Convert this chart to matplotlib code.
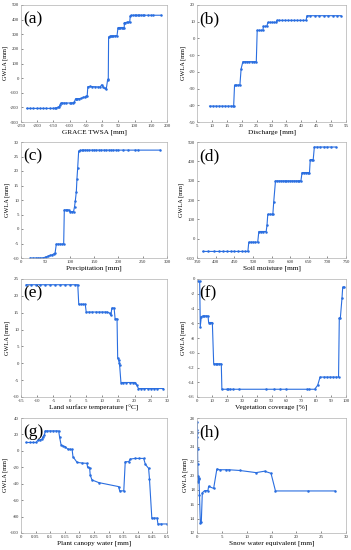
import matplotlib
matplotlib.use("Agg")
import matplotlib.pyplot as plt
import numpy as np

# ---------------- data ----------------
a_x = [-232, -222, -212, -202, -192, -182, -172, -162, -152, -146, -142, -137, -132, -130, -128, -124, -118, -110, -100, -95, -90, -86, -82, -80, -76, -70, -64, -58, -52, -49, -46, -44, -38, -30, -22, -14, -6, -1, 4, 8, 13, 17, 19, 20, 23, 27, 31, 35, 40, 46, 49, 52, 56, 60, 64, 68, 69, 72, 76, 80, 85, 87, 90, 95, 100, 105, 110, 115, 120, 125, 130, 140, 150, 158, 182]
a_y = [-207, -207, -207, -207, -207, -207, -207, -207, -207, -206, -204, -200, -196, -185, -172, -170, -170, -170, -170, -170, -168, -165, -142, -140, -140, -140, -138, -132, -128, -124, -122, -58, -57, -58, -59, -60, -60, -45, -64, -70, -72, -10, -8, 282, 285, 287, 288, 289, 290, 291, 345, 346, 346, 346, 346, 346, 380, 380, 381, 381, 382, 428, 429, 429, 430, 430, 430, 430, 430, 430, 430, 430, 430, 430, 430]

b_x = [9.2, 10.5, 11.5, 12.5, 13.5, 14.5, 15.5, 16.3, 17.0, 17.3, 17.6, 18.2, 18.8, 19.4, 19.8, 20.4, 21.0, 21.8, 22.6, 23.4, 24.2, 24.9, 25.2, 25.8, 26.4, 27.1, 27.3, 27.8, 28.4, 28.8, 29.5, 30.3, 31.0, 31.6, 31.8, 32.5, 33.5, 34.5, 35.5, 36.5, 37.5, 38.5, 39.5, 40.5, 41.6, 41.9, 43.0, 44.5, 46.0, 47.5, 49.0, 50.5, 52.0, 53.3]
b_y = [-40.5, -40.5, -40.5, -40.5, -40.5, -40.5, -40.5, -40.5, -40.5, -40.5, -27.9, -27.9, -27.9, -27.9, -18.2, -13.9, -13.9, -13.9, -13.9, -13.9, -13.9, -13.9, 4.8, 4.8, 4.8, 4.8, 7.2, 7.2, 7.2, 9.6, 9.6, 9.6, 9.6, 9.6, 10.8, 10.8, 10.8, 10.8, 10.8, 10.8, 10.8, 10.8, 10.8, 10.8, 10.8, 13.6, 13.6, 13.6, 13.6, 13.6, 13.6, 13.6, 13.6, 13.6]

c_x = [19, 25, 30, 35, 40, 46, 52, 56, 60, 64, 67, 70, 72.6, 76, 80, 84, 87.7, 89, 92, 95, 98, 100, 104, 108, 110, 111.6, 113.7, 115, 116.4, 118.5, 122, 125, 128, 132, 136, 140, 145, 150, 155, 160, 165, 170, 175, 180, 185, 190, 196, 200, 210, 220, 235, 240, 286]
c_y = [-10, -10, -10, -10, -10, -9.9, -9.6, -9.3, -9.1, -8.9, -8.6, -8.3, -5.2, -5.2, -5.2, -5.2, -5.2, 6.6, 6.6, 6.6, 6.6, 6.0, 6.0, 6.0, 7.7, 9.7, 12.9, 17.4, 20.9, 26.9, 27.1, 27.1, 27.2, 27.2, 27.2, 27.2, 27.2, 27.2, 27.2, 27.2, 27.2, 27.2, 27.2, 27.2, 27.2, 27.2, 27.2, 27.2, 27.2, 27.2, 27.2, 27.2, 27.2]

d_x = [366, 380, 395, 410, 420, 430, 440, 450, 460, 470, 480, 486.6, 489, 495, 500, 506, 513, 516, 522, 528, 535.7, 538, 540, 545, 550, 553.6, 556, 560.7, 565, 570, 575, 580, 585, 590, 595, 600, 605, 610, 615, 620, 625, 629, 632, 637, 642, 647, 652, 654, 658, 662, 665, 672, 680, 690, 700, 710, 723]
d_y = [-66, -66, -66, -66, -66, -66, -66, -66, -66, -66, -66, -66, -18, -18, -18, -18, -18, 37, 37, 37, 37, 71, 126, 126, 126, 126, 191, 299, 299, 299, 299, 299, 299, 299, 299, 299, 299, 299, 299, 299, 299, 299, 342, 342, 342, 342, 342, 409, 409, 409, 474, 474, 474, 474, 474, 474, 474]

e_x = [-13.4, -12.0, -10.5, -9.0, -7.5, -6.0, -4.5, -3.0, -1.5, 0.0, 1.5, 2.5, 2.8, 3.6, 4.2, 4.8, 5.1, 6.0, 7.0, 8.0, 9.0, 10.0, 11.0, 11.5, 12.3, 12.7, 13.0, 13.7, 14.0, 14.6, 14.8, 15.1, 15.3, 15.4, 15.8, 16.5, 17.5, 18.5, 19.5, 20.2, 20.7, 21.2, 22.0, 23.0, 24.0, 25.0, 26.0, 27.0, 28.9]
e_y = [23.3, 23.3, 23.3, 23.3, 23.3, 23.3, 23.3, 23.3, 23.3, 23.3, 23.3, 23.3, 17.5, 17.5, 17.5, 17.5, 15.2, 15.2, 15.2, 15.2, 15.2, 15.2, 15.2, 15.2, 14.9, 14.2, 16.4, 16.4, 13.2, 13.2, 1.6, 0.9, 0.1, -0.6, -5.7, -5.7, -5.7, -5.7, -5.7, -5.7, -6.5, -7.5, -7.5, -7.5, -7.5, -7.5, -7.5, -7.5, -7.5]

f_x = [0.7, 1.8, 2.2, 2.9, 4.0, 5.0, 6.0, 7.4, 7.8, 9.0, 10.3, 11.2, 12.5, 13.5, 14.5, 16.3, 16.7, 20, 21, 22, 24, 28, 46, 52, 56, 60, 74, 75, 79, 81, 82.6, 85, 87, 89, 91, 93, 95, 95.5, 96.2, 97.3, 97.8, 98.9]
f_y = [-0.3, -0.3, -6.45, -5.1, -5.0, -5.0, -5.0, -5.0, -5.9, -5.9, -5.9, -11.5, -11.5, -11.5, -11.5, -11.5, -14.95, -14.95, -14.95, -14.95, -14.95, -14.95, -14.95, -14.95, -14.95, -14.95, -14.95, -14.95, -14.95, -14.4, -13.3, -13.3, -13.3, -13.3, -13.3, -13.3, -13.3, -5.3, -5.3, -2.6, -1.1, -1.1]

g_x = [0.018, 0.03, 0.04, 0.0525, 0.057, 0.065, 0.072, 0.075, 0.08, 0.083, 0.09, 0.1, 0.11, 0.12, 0.129, 0.132, 0.137, 0.144, 0.152, 0.16, 0.168, 0.175, 0.178, 0.192, 0.209, 0.226, 0.228, 0.235, 0.237, 0.243, 0.266, 0.334, 0.338, 0.352, 0.357, 0.369, 0.374, 0.391, 0.405, 0.42, 0.426, 0.437, 0.44, 0.448, 0.456, 0.466, 0.469, 0.48, 0.5]
g_y = [10.2, 10.2, 10.2, 10.2, 13, 13.5, 14, 17, 19, 24.3, 24.3, 24.3, 24.3, 24.3, 24.3, 17, 7.7, 5.7, 5, 2.1, 1.9, 1.7, -7.2, -14, -14.8, -15.2, -20, -20.5, -29.4, -35.4, -38.6, -43.5, -48.7, -48.7, -13.2, -13.2, -10, -9.2, -9.2, -9.2, -16.5, -21.3, -34.2, -81.8, -81.8, -81.8, -89, -89, -89]

h_x = [0.05, 0.06, 0.08, 0.1, 0.12, 0.15, 0.2, 0.25, 0.3, 0.35, 0.4, 0.5, 0.67, 0.87, 1.07, 1.54, 2.2, 2.34, 3.35, 4.0, 4.55, 5.9, 6.4, 8.6, 11.9, 13.6, 14.9, 15.8, 22.3, 27.8]
h_y = [27.4, 26.4, 25.9, 25.3, 23.7, 21.6, 20.0, 19.3, 19.1, 19.7, 19.5, 17.35, 13.4, 13.6, 17.6, 17.9, 17.9, 18.5, 18.2, 20.9, 20.8, 20.8, 20.8, 20.7, 20.4, 20.6, 20.3, 17.85, 17.85, 17.85]

panels = [
    ("(a)", a_x, a_y, "GRACE TWSA [mm]", (-250, 200), np.arange(-250, 201, 50), (-300, 500), np.arange(-300, 501, 100)),
    ("(b)", b_x, b_y, "Discharge [mm]", (5, 55), np.arange(5, 56, 5), (-50, 20), np.arange(-50, 21, 10)),
    ("(c)", c_x, c_y, "Precipitation [mm]", (0, 300), np.arange(0, 301, 50), (-10, 30), np.arange(-10, 31, 5)),
    ("(d)", d_x, d_y, "Soil moisture [mm]", (350, 750), np.arange(350, 751, 50), (-100, 500), np.arange(-100, 501, 100)),
    ("(e)", e_x, e_y, "Land surface temperature [\u00b0C]", (-15, 30), np.arange(-15, 31, 5), (-10, 25), np.arange(-10, 26, 5)),
    ("(f)", f_x, f_y, "Vegetation coverage [%]", (0, 100), np.arange(0, 101, 10), (-16, 0), np.arange(-16, 1, 2)),
    ("(g)", g_x, g_y, "Plant canopy water [mm]", (0, 0.5), np.round(np.arange(0, 0.501, 0.05), 2), (-100, 40), np.arange(-100, 41, 20)),
    ("(h)", h_x, h_y, "Snow water equivalent [mm]", (0, 30), np.arange(0, 31, 5), (12, 28), np.arange(12, 29, 2)),
]

plt.rcParams['font.family'] = ['Liberation Serif', 'DejaVu Serif']
fig = plt.figure(figsize=(3.51, 5.5), dpi=100)

lefts = [21/351, 197/351]
widths = [146/351, 149/351]
rows = [(5, 122), (142, 258), (279, 397), (418, 533)]
col = '#2a6ee0'

for i, (lab, xs, ys, xl, xlim, xt, ylim, yt) in enumerate(panels):
    r, c = divmod(i, 2)
    top, bot = rows[r]
    ax = fig.add_axes([lefts[c], 1 - bot/550, widths[c], (bot - top)/550])
    ax.plot(xs, ys, '-o', color=col, lw=0.8, ms=1.8, mew=0)
    ax.set_xlim(*xlim)
    ax.set_ylim(*ylim)
    ax.set_xticks(xt)
    ax.set_yticks(yt)
    ax.set_xticklabels(['%g' % v for v in xt])
    ax.set_yticklabels(['%g' % v for v in yt])
    ax.tick_params(direction='in', length=1.5, width=0.4, labelsize=3.5, pad=1.5, colors='#333333')
    for sp in ax.spines.values():
        sp.set_linewidth(0.5)
        sp.set_color('#b0b0b0')
    ax.set_xlabel(xl, fontsize=5.2, labelpad=1)
    ax.set_ylabel("GWLA [mm]", fontsize=4.5, labelpad=1.5)
    ax.text(0.012, 0.945, lab, transform=ax.transAxes, fontsize=12.5, va='top', ha='left')

fig.savefig("out.png", dpi=100)
